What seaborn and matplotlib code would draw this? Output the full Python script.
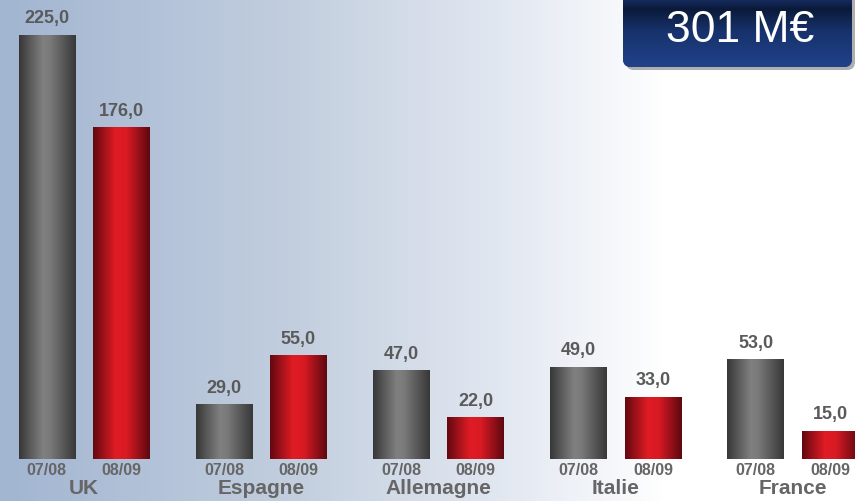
import numpy as np
import pandas as pd
import matplotlib.pyplot as plt
import seaborn as sns
from matplotlib.colors import LinearSegmentedColormap
from matplotlib.patches import FancyBboxPatch
import matplotlib.transforms as mtransforms

# données
pays = ['UK', 'Espagne', 'Allemagne', 'Italie', 'France']
saisons = ['07/08', '08/09']
val_0708 = [225.0, 29.0, 47.0, 49.0, 53.0]
val_0809 = [176.0, 55.0, 22.0, 33.0, 15.0]
total_label = '301 M€'

df = pd.DataFrame({
    'pays': pays * 2,
    'saison': [saisons[0]] * len(pays) + [saisons[1]] * len(pays),
    'valeur': val_0708 + val_0809,
})

sns.set_theme(style='white')
plt.rcParams['font.family'] = ['Liberation Sans', 'DejaVu Sans']

fig = plt.figure(figsize=(8.55, 5.02), dpi=100)
ax = fig.add_axes([0, 0, 1, 1])

# fond dégradé
bg_cmap = LinearSegmentedColormap.from_list('bg', [
    (0.0, '#a2b5d1'), (0.35, '#c3cfdf'), (0.6, '#e4e9f2'), (0.78, '#ffffff'), (1.0, '#ffffff')])
ax.imshow(np.linspace(0, 1, 256).reshape(1, -1), cmap=bg_cmap, aspect='auto',
          extent=(0, 1, 0, 1), transform=ax.transAxes, zorder=0)

palette = {'07/08': '#6e6e6e', '08/09': '#d81c24'}
sns.barplot(data=df, x='pays', y='valeur', hue='saison', order=pays, hue_order=saisons,
            palette=palette, width=0.84, gap=0.24, legend=False, ax=ax, zorder=2,
            linewidth=0, edgecolor='none')

grad_cmaps = {
    '07/08': LinearSegmentedColormap.from_list('g', [
        (0.0, '#383838'), (0.42, '#808080'), (0.55, '#7a7a7a'), (1.0, '#383838')]),
    '08/09': LinearSegmentedColormap.from_list('r', [
        (0.0, '#640810'), (0.4, '#e01c25'), (0.6, '#d81a23'), (1.0, '#5e0810')]),
}
hgrad = np.linspace(0, 1, 128).reshape(1, -1)

lab_trans = mtransforms.blended_transform_factory(ax.transData, ax.transAxes)
for saison, cont in zip(saisons, ax.containers):
    for bar in cont:
        x0, w, h = bar.get_x(), bar.get_width(), bar.get_height()
        im = ax.imshow(hgrad, cmap=grad_cmaps[saison], aspect='auto',
                       extent=(x0, x0 + w, 0, h), zorder=3)
        im.set_clip_path(bar)
        ax.text(x0 + w / 2, 0.062, saison, transform=lab_trans, ha='center', va='center',
                fontsize=11.5, fontweight='bold', color='#666666', zorder=4)
    ax.bar_label(cont, labels=[f'{b.get_height():.1f}'.replace('.', ',') for b in cont],
                 padding=6, fontsize=13, fontweight='bold', color='#5a5a5a', zorder=4)

for i, p in enumerate(pays):
    ax.text(i, 0.026, p, transform=lab_trans, ha='center', va='center',
            fontsize=15, fontweight='bold', color='#666666', zorder=4)

ax.set_xlim(-0.474, 4.35)
ax.set_ylim(-22.3, 244)
ax.axis('off')

# encadré total
ov = fig.add_axes([0, 0, 1, 1], zorder=5)
ov.axis('off')
ov.patch.set_alpha(0)
shadow = FancyBboxPatch((626, -10), 229, 81, boxstyle='round,pad=0,rounding_size=8',
                        facecolor='#7a7a7a', edgecolor='none', alpha=0.6)
ov.add_patch(shadow)
box = FancyBboxPatch((623, -10), 229, 78, boxstyle='round,pad=0,rounding_size=8',
                     facecolor='#17326c', edgecolor='none')
ov.add_patch(box)
box_cmap = LinearSegmentedColormap.from_list('nav', [
    (0.0, '#22428a'), (0.25, '#0b1a3a'), (0.55, '#17326c'), (1.0, '#21418a')])
bim = ov.imshow(np.linspace(0, 1, 128).reshape(-1, 1), cmap=box_cmap, aspect='auto',
                extent=(623, 852, 68, -10), origin='upper', zorder=3)
bim.set_clip_path(box)
ov.text(740, 31, total_label, ha='center', va='center', fontsize=32, color='white', zorder=4)
ov.set_xlim(0, 855)
ov.set_ylim(502, 0)

fig.savefig('out.png', dpi=100)
